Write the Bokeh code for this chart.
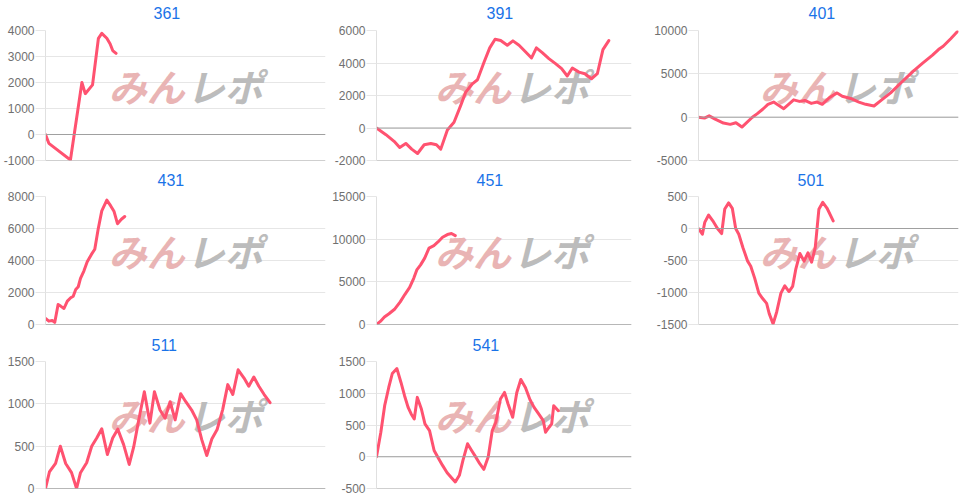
from bokeh.plotting import figure
from bokeh.layouts import gridplot
from bokeh.models import FixedTicker, Span, Range1d, Title
from bokeh.core.properties import value
from bokeh.embed import file_html
from bokeh.resources import INLINE

# ---- data (x = position across the day, % of chart width; y = difference) ----
titles = ["361", "391", "401", "431", "451", "501", "511", "541"]

x361 = [0, 1.2, 8.9, 13.0, 14.2, 16.8, 18.9, 20.1, 21.9, 23.1, 24.0, 25.2]
y361 = [0, -340, -980, 2000, 1570, 1910, 3700, 3890, 3700, 3480, 3230, 3120]
t361 = [-1000, 0, 1000, 2000, 3000, 4000]

x391 = [0, 3.7, 6.9, 9.1, 11.5, 13.8, 16.1, 18.7, 21.3, 23.5, 25.2, 27.8, 30.4, 33.0,
        35.0, 37.6, 39.6, 42.2, 44.4, 46.5, 48.7, 51.3, 53.5, 55.9, 58.5, 60.8, 62.7,
        65.0, 67.6, 70.2, 72.6, 74.8, 76.8, 79.4, 81.7, 84.3, 86.6, 88.8, 91.1]
y391 = [0, -410, -820, -1200, -950, -1300, -1570, -1030, -950, -1030, -1300, -120, 350,
        1380, 2210, 2720, 2970, 4060, 4930, 5460, 5380, 5090, 5360, 5090, 4680, 4310,
        4930, 4640, 4270, 3960, 3650, 3200, 3690, 3440, 3340, 3030, 3340, 4820, 5380]
t391 = [-2000, 0, 2000, 4000, 6000]

x401 = [0, 2.3, 4.1, 6.4, 9.6, 12.2, 14.4, 16.7, 20.6, 22.5, 24.7, 26.7, 28.9, 32.8,
        36.6, 38.8, 40.9, 43.4, 45.6, 47.6, 50.4, 53.3, 55.3, 58.5, 61.7, 64.3, 67.5,
        70.7, 73.9, 77.8, 82.3, 86.1, 90.0, 92.3, 94.1, 97.0, 99.6]
y401 = [0, -110, 150, -230, -680, -830, -640, -1140, -40, 380, 910, 1480, 1740, 980,
        2000, 1820, 1930, 1590, 1740, 1480, 2270, 2800, 2420, 2160, 1740, 1480, 1290,
        2050, 2800, 3940, 5230, 6210, 7160, 7800, 8180, 9050, 9880]
t401 = [-5000, 0, 5000, 10000]

x431 = [0, 1.2, 2.4, 3.3, 4.5, 5.4, 6.6, 7.8, 9.0, 9.9, 10.8, 11.7, 12.5, 13.7, 14.9,
        16.4, 17.6, 18.8, 20.1, 21.9, 23.3, 24.5, 25.7, 27.1, 28.3]
y431 = [380, 210, 250, 130, 1250, 1150, 1000, 1460, 1670, 1770, 2190, 2360, 2880, 3340,
        3920, 4380, 4700, 5950, 7100, 7770, 7410, 7060, 6300, 6580, 6750]
t431 = [0, 2000, 4000, 6000, 8000]

x451 = [0, 1.5, 3.1, 4.9, 7.2, 9.3, 11.1, 13.0, 14.6, 15.8, 17.3, 18.9, 20.6, 22.5,
        24.1, 25.9, 27.8, 29.4, 30.9]
y451 = [0, 360, 870, 1260, 1820, 2650, 3510, 4340, 5410, 6400, 6990, 7780, 8960, 9240,
        9670, 10230, 10540, 10660, 10420]
t451 = [0, 5000, 10000, 15000]

x501 = [0, 1.5, 2.4, 3.9, 5.5, 7.3, 8.9, 10.1, 11.6, 13.0, 14.3, 15.5, 17.1, 18.9, 20.1,
        21.6, 23.2, 24.6, 26.2, 27.2, 28.7, 30.1, 31.7, 33.2, 34.8, 36.2, 37.4, 39.0,
        40.6, 42.1, 43.5, 44.9, 46.3, 47.8, 49.4, 51.8]
y501 = [0, -90, 95, 210, 120, 0, -80, 305, 400, 315, 0, -90, -300, -510, -590, -775,
        -1010, -1090, -1170, -1330, -1490, -1300, -1010, -895, -985, -905, -640, -390,
        -510, -380, -525, -300, 300, 410, 320, 120]
t501 = [-1500, -1000, -500, 0, 500]

x511 = [0, 1.4, 3.6, 5.3, 7.2, 9.3, 11.1, 12.5, 14.7, 16.5, 18.3, 20.1, 22.1, 24.0,
        25.8, 27.9, 29.9, 31.5, 33.3, 35.3, 37.3, 38.9, 40.9, 42.7, 44.5, 46.3, 48.3,
        50.1, 52.2, 54.0, 55.8, 57.6, 59.4, 61.3, 63.3, 65.1, 66.9, 68.8, 70.9, 72.6,
        74.4, 76.2, 78.1, 80.2]
y511 = [0, 195, 296, 500, 296, 187, 0, 187, 304, 499, 596, 705, 401, 596, 701, 518, 284,
        491, 810, 1142, 772, 1142, 927, 830, 1025, 810, 1120, 1025, 927, 810, 577, 390,
        584, 697, 935, 1227, 1110, 1402, 1305, 1208, 1316, 1208, 1110, 1013]
t511 = [0, 500, 1000, 1500]

x541 = [0, 1.7, 3.2, 4.8, 6.2, 8.0, 9.6, 11.0, 12.4, 13.6, 14.8, 16.0, 17.6, 19.0, 20.8,
        22.6, 24.4, 25.9, 27.7, 29.5, 30.9, 32.5, 33.9, 35.7, 37.3, 38.7, 40.5, 42.1,
        43.8, 45.4, 46.8, 48.6, 50.2, 51.6, 53.4, 55.0, 56.6, 58.4, 60.2, 61.8, 63.6,
        65.4, 66.3, 67.7, 68.7, 69.5, 71.3]
y541 = [0, 386, 804, 1091, 1311, 1389, 1170, 961, 778, 674, 595, 935, 752, 517, 412, 99,
        -31, -136, -251, -334, -397, -292, -57, 204, 99, 10, -110, -198, -5, 412, 543,
        909, 1013, 830, 622, 1008, 1217, 1091, 898, 778, 674, 569, 386, 465, 517, 804, 726]
t541 = [-500, 0, 500, 1000, 1500]

series = [
    (titles[0], x361, y361, t361),
    (titles[1], x391, y391, t391),
    (titles[2], x401, y401, t401),
    (titles[3], x431, y431, t431),
    (titles[4], x451, y451, t451),
    (titles[5], x501, y501, t501),
    (titles[6], x511, y511, t511),
    (titles[7], x541, y541, t541),
]

# ---- layout / style ----
LINE = "#ff5270"
TITLE_C = "#1a73e8"
col_w = [328, 317, 322]
col_bl = [44, 48, 53]
col_br = [3, 14, 9]
row_h = [167, 165, 165]
row_bt = [30, 29, 29]
row_bb = [7, 8, 9]
row_gap = [9, 8, 8]          # spacer between title and plot area
title_off = [108, 110, 110, 112, 100, 99, 106, 96]
wm_fx = [0.49, 0.52, 0.52]
wm_fy = 0.42

figs = []
for i, (title, xs, ys, ticks) in enumerate(series):
    r, c = divmod(i, 3)
    ymin, ymax = min(ticks), max(ticks)
    p = figure(width=col_w[c], height=row_h[r],
               x_range=Range1d(0, 100), y_range=Range1d(ymin, ymax),
               x_axis_location=None, output_backend="svg", toolbar_location=None,
               min_border_left=col_bl[c], min_border_right=col_br[c],
               min_border_top=row_bt[r], min_border_bottom=row_bb[r])
    p.outline_line_color = None
    p.background_fill_color = "white"
    p.border_fill_color = "white"

    # spacer (closest to plot) and the title above it
    p.add_layout(Title(text=" ", text_font_size="1px", standoff=row_gap[r]), "above")
    p.add_layout(Title(text=title, align="left", offset=title_off[i], standoff=0,
                       text_font="Liberation Sans", text_font_size="16px",
                       text_font_style="normal", text_color=TITLE_C), "above")

    p.xgrid.visible = False
    p.ygrid.ticker = FixedTicker(ticks=ticks)
    p.ygrid.grid_line_color = "#e6e6e6"
    ax = p.yaxis[0]
    ax.ticker = FixedTicker(ticks=ticks)
    ax.major_label_overrides = {t: str(t) for t in ticks}
    ax.major_label_text_font = "Liberation Sans"
    ax.major_label_text_font_size = "12px"
    ax.major_label_text_color = "#707070"
    ax.major_tick_out = 10
    ax.major_tick_in = 0
    ax.minor_tick_line_color = None
    ax.major_tick_line_color = "#e6e6e6"
    ax.axis_line_color = "#e0e0e0"
    ax.major_label_standoff = 1

    p.add_layout(Span(location=0, dimension="width", line_color="#a0a0a0", line_width=1))
    p.add_layout(Span(location=ymin, dimension="width", line_color="#a0a0a0", line_width=1))

    # watermark (logo text)
    wx = 100 * wm_fx[c]
    wy = ymax - wm_fy * (ymax - ymin)
    p.text(x=[wx], y=[wy], text=["みん"], text_align="right", text_baseline="middle",
           x_offset=2, text_font=value("Noto Sans CJK JP"), text_font_size="38px",
           text_font_style="bold italic", text_color="#e9b4b4")
    p.text(x=[wx], y=[wy], text=["レポ"], text_align="left", text_baseline="middle",
           x_offset=4, text_font=value("Noto Sans CJK JP"), text_font_size="38px",
           text_font_style="bold italic", text_color="#bcbcbc")

    p.line(xs, ys, line_color=LINE, line_width=3, line_join="round", line_cap="round")
    figs.append(p)

grid = gridplot([figs[0:3], figs[3:6], figs[6:8] + [None]], toolbar_location=None)

open("out.html", "w").write(file_html(grid, INLINE))
